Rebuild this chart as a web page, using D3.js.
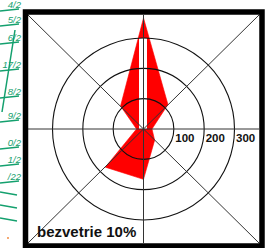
<!DOCTYPE html>
<html>
<head>
<meta charset="utf-8">
<script src="https://cdn.jsdelivr.net/npm/d3@7"></script>
<style>
  html, body { margin: 0; padding: 0; background: #fff; }
  svg { display: block; }
</style>
</head>
<body>
<svg id="chart" width="271" height="248"></svg>
<script>
// wind rose data (8 directions, clockwise from north)
const directions = ['N', 'NE', 'E', 'SE', 'S', 'SW', 'W', 'NW'];
const frequencies = [366, 114, 28, 52, 166, 178, 23, 107];
const ringValues = [100, 200, 300];
const calmBar = 300;
const calmLabel = 'bezvetrie 10%';

// cut-off neighbour chart on the left edge
const sideLabels = ['4/2', '5/2', '6/2', '17/2', '8/2', '9/2', '0/2', '1/2', '/22'];
const sideLabelY = [8, 23, 41, 68, 95, 119, 146, 163, 180];
const sideTickY = [193, 206, 219];

const svg = d3.select('#chart');

// frame geometry
const inner = { x0: 28, y0: 15, x1: 259, y1: 243 };
const cx = (inner.x0 + inner.x1) / 2;
const cy = 129;

const r = d3.scaleLinear().domain([0, 300]).range([0, 91]);
const angle = d3.scalePoint().domain(directions).range([0, 2 * Math.PI * 7 / 8]);

// ---- left-edge fragment ----
const green = '#14a06e';
const side = svg.append('g');
side.selectAll('text.side')
    .data(sideLabels)
    .join('text')
    .attr('class', 'side')
    .attr('x', 21)
    .attr('y', (d, i) => sideLabelY[i])
    .attr('text-anchor', 'end')
    .attr('fill', green)
    .attr('font-family', 'Liberation Sans, Arial, sans-serif')
    .attr('font-size', 9.5)
    .attr('font-style', 'italic')
    .text(d => d);
side.selectAll('line.under')
    .data(sideLabelY)
    .join('line')
    .attr('x1', 0).attr('x2', 19)
    .attr('y1', d => d + 3).attr('y2', d => d + 1)
    .attr('stroke', green).attr('stroke-width', 1.5);
side.selectAll('line.tick')
    .data(sideTickY)
    .join('line')
    .attr('x1', 0).attr('x2', 17)
    .attr('y1', d => d - 1).attr('y2', d => d + 2)
    .attr('stroke', green).attr('stroke-width', 1.5);
side.append('line')
    .attr('x1', 15).attr('y1', 30).attr('x2', 2).attr('y2', 112)
    .attr('stroke', green).attr('stroke-width', 1.5);
side.append('circle')
    .attr('cx', 8).attr('cy', 238).attr('r', 0.9)
    .attr('fill', '#f08030');

// ---- wind rose ----
const g = svg.append('g').attr('transform', `translate(${cx},${cy})`);

const radial = d3.lineRadial()
    .angle((d, i) => angle(directions[i]))
    .radius(d => r(d))
    .curve(d3.curveLinearClosed);

g.append('path')
    .attr('d', radial(frequencies))
    .attr('fill', '#ff0000')
    .attr('stroke', '#ff0000')
    .attr('stroke-width', 0.6);

// white bar up the north axis
g.append('rect')
    .attr('x', -4.5)
    .attr('y', -r(calmBar))
    .attr('width', 8)
    .attr('height', r(calmBar))
    .attr('fill', '#fff');

// rings
g.selectAll('circle.ring')
    .data(ringValues)
    .join('circle')
    .attr('class', 'ring')
    .attr('r', d => r(d))
    .attr('fill', 'none')
    .attr('stroke', '#111')
    .attr('stroke-width', 1.1);

// axes and diagonals
const lines = svg.append('g').attr('stroke', '#333').attr('stroke-width', 1);
lines.append('line').attr('x1', inner.x0).attr('x2', inner.x1).attr('y1', cy).attr('y2', cy);
lines.append('line').attr('x1', cx).attr('x2', cx).attr('y1', inner.y0).attr('y2', inner.y1);
lines.append('line').attr('x1', inner.x0).attr('y1', inner.y0).attr('x2', inner.x1).attr('y2', inner.y1);
lines.append('line').attr('x1', inner.x1).attr('y1', inner.y0).attr('x2', inner.x0).attr('y2', inner.y1);

// ring labels
g.selectAll('text.ringlabel')
    .data(ringValues)
    .join('text')
    .attr('class', 'ringlabel')
    .attr('x', d => r(d) + 1.5)
    .attr('y', 13)
    .attr('font-family', 'Liberation Sans, Arial, sans-serif')
    .attr('font-weight', 'bold')
    .attr('font-size', 11.5)
    .attr('fill', '#111')
    .text(d => d);

// calm label
svg.append('text')
    .attr('x', 37)
    .attr('y', 236.5)
    .attr('font-family', 'Liberation Sans, Arial, sans-serif')
    .attr('font-weight', 'bold')
    .attr('font-size', 15)
    .attr('fill', '#111')
    .text(calmLabel);

// frame
svg.append('rect')
    .attr('x', 25.5).attr('y', 12)
    .attr('width', 236.5).attr('height', 234)
    .attr('fill', 'none')
    .attr('stroke', '#000')
    .attr('stroke-width', 5.5);
</script>
</body>
</html>
